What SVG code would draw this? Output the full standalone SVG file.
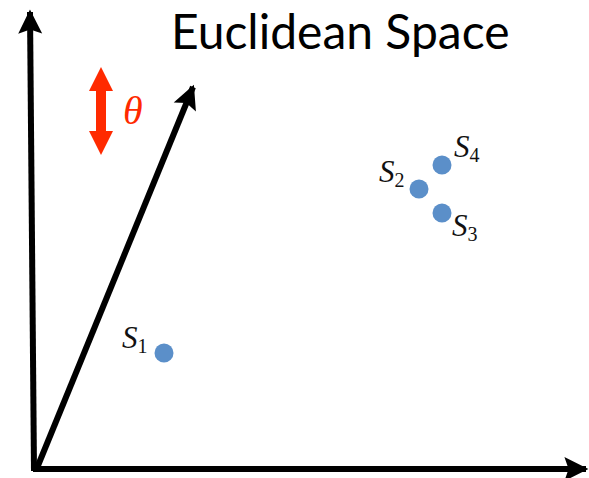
<svg xmlns="http://www.w3.org/2000/svg" width="589" height="478" viewBox="0 0 589 478">
<style>
.ax{stroke:#000;stroke-width:6;fill:none}
.pt{fill:#5b8fc9}
.lb{font-family:"Liberation Serif",serif;font-style:italic;font-size:31px;fill:#111}
.sub{font-family:"Liberation Serif",serif;font-style:normal;font-size:20px;fill:#111}
</style>
<defs>
<marker id="ah" markerWidth="5" markerHeight="5" refX="3.6" refY="2" orient="auto" markerUnits="strokeWidth" overflow="visible">
<path d="M0,0 L4,2 L0,4 L0.7,2 Z" fill="#000"/>
</marker>
</defs>
<rect width="589" height="478" fill="#fff"/>
<g id="connectors">
<line class="ax" x1="34" y1="471" x2="30" y2="12" marker-end="url(#ah)"/>
<line class="ax" x1="33" y1="469" x2="586" y2="469" marker-end="url(#ah)"/>
<line class="ax" x1="37" y1="468" x2="193" y2="87" marker-end="url(#ah)"/>
</g>
<g id="title">
<text x="171" y="49" font-family="Lato, 'Open Sans', sans-serif" font-size="48" fill="#000">Euclidean Space</text>
</g>
<g id="theta">
<polygon points="101,67 113,91 106,91 106,131 113,131 101,155 89,131 96,131 96,91 89,91" fill="#ff2a00"/>
<text x="123" y="124" font-family="'Liberation Serif', serif" font-style="italic" font-size="40" fill="#ff2a00">θ</text>
</g>
<g id="s1">
<circle class="pt" cx="164" cy="353" r="9.5"/>
<text class="lb" x="122" y="348">S<tspan class="sub" dy="5">1</tspan></text>
</g>
<g id="s2">
<circle class="pt" cx="419" cy="189" r="9.5"/>
<text class="lb" x="379" y="182">S<tspan class="sub" dy="5">2</tspan></text>
</g>
<g id="s3">
<circle class="pt" cx="442" cy="213" r="9.5"/>
<text class="lb" x="452" y="236">S<tspan class="sub" dy="5">3</tspan></text>
</g>
<g id="s4">
<circle class="pt" cx="442" cy="165" r="9.5"/>
<text class="lb" x="454" y="157">S<tspan class="sub" dy="5">4</tspan></text>
</g>
</svg>
